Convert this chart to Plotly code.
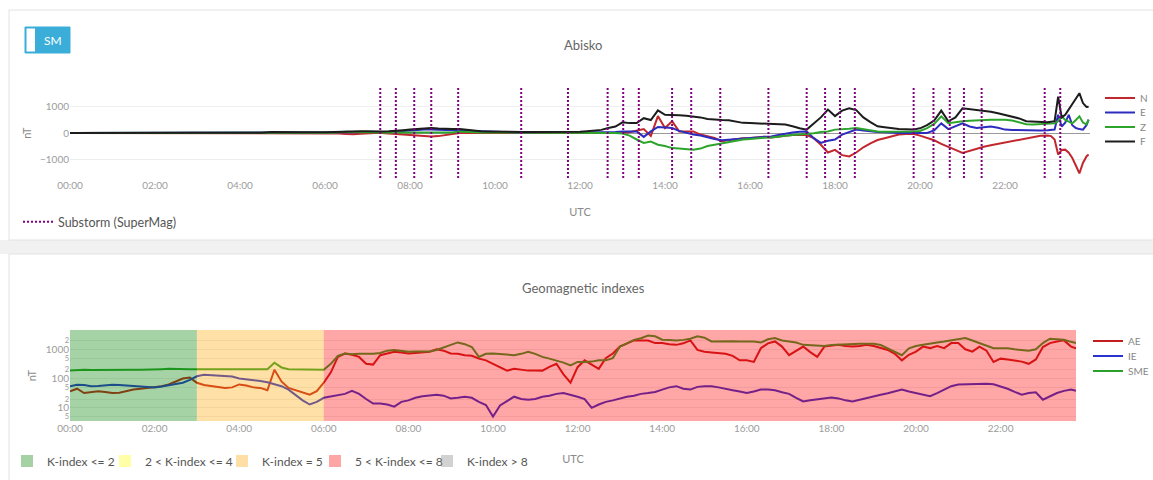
import pandas as pd
import plotly.graph_objects as go

DAY = "2015-03-17"
W, H = 1153, 480
FONT = "Lato, 'Open Sans', sans-serif"

# ---------------- Abisko magnetometer (nT) ----------------
QUIET_TIMES = ["00:00", "00:30", "01:00", "01:30", "02:00", "02:30", "03:00",
               "03:30", "04:00", "04:30", "04:45", "05:00", "05:30"]
TEN_MIN_TIMES = [f"{h:02d}:{m:02d}" for h in range(6, 23) for m in range(0, 60, 10)]
FIVE_MIN_TIMES = [f"23:{m:02d}" for m in range(0, 60, 5)]
TIME_TOP = QUIET_TIMES + TEN_MIN_TIMES + FIVE_MIN_TIMES + ["23:58"]

N_VALUES = (
    [0, -2, -3, -2, -3, -2, -3, -2, -3, -3, -5, -5, -5]
    + [-5, -10, -20, -40, -50, -30]
    + [-10, 0, 0, -20, -50, -60]
    + [-90, -100, -120, -130, -120, -80]
    + [-20, 0, 0, 0, 0, 0]
    + [0, 0, 0, 0, 0, 0]
    + [0, 0, 0, 0, 0, 0]
    + [0, 0, 0, 0, 0, 0]
    + [0, 30, 80, 150, -110, 650]
    + [190, 450, 60, 60, 60, -60]
    + [-130, -190, -320, -280, -240, -200]
    + [-190, -160, -140, -170, -150, -110]
    + [-80, -70, -80, -200, -450, -750]
    + [-650, -850, -900, -750, -550, -400]
    + [-270, -200, -130, -60, -40, -30]
    + [-100, -180, -280, -420, -520, -650]
    + [-770, -680, -600, -530, -470, -420]
    + [-380, -330, -260, -200, -160, -110]
    + [-100, -120, -250, -830, -650, -640, -760, -960, -1250, -1550, -1150, -900]
    + [-830]
)
E_VALUES = (
    [0, 2, 3, 2, 3, 2, 3, 2, 3, 5, 8, 8, 5]
    + [0, 10, 20, 20, 30, 40]
    + [40, 30, 20, 40, 60, 80]
    + [90, 110, 130, 130, 120, 100]
    + [90, 80, 70, 60, 60, 50]
    + [40, 30, 20, 20, 20, 20]
    + [20, 20, 20, 20, 20, 20]
    + [20, 20, 20, 20, 20, 40]
    + [60, 60, 60, -150, 60, 230]
    + [220, 190, 80, 0, -60, -100]
    + [-170, -230, -280, -260, -240, -230]
    + [-200, -170, -150, -130, -80, -20]
    + [20, 50, 60, -200, -380, -300]
    + [-250, -60, 50, 130, 100, 60]
    + [40, 30, 10, 0, 0, 0]
    + [0, 0, 100, 370, 150, 250]
    + [370, 250, 190, 220, 250, 200]
    + [130, 120, 110, 100, 100, 100]
    + [110, 120, 130, 700, 250, 400, 700, 300, 190, 150, 130, 300]
    + [510]
)
Z_VALUES = (
    [0, 1, 2, 1, 2, 1, 2, 1, 2, 2, 3, 3, 3]
    + [0, 10, 30, 50, 40, 30]
    + [20, 20, 20, 20, 20, 20]
    + [20, 20, 20, 20, 20, 20]
    + [20, 60, 40, 30, 20, 20]
    + [20, 15, 15, 15, 15, 15]
    + [15, 15, 15, 15, 15, 15]
    + [10, 10, 10, 10, 5, 0]
    + [-20, -100, -250, -380, -330, -450]
    + [-500, -580, -600, -620, -640, -600]
    + [-500, -450, -400, -330, -290, -250]
    + [-230, -200, -180, -170, -150, -110]
    + [-80, -60, -50, -10, 40, 60]
    + [130, 140, 160, 190, 150, 100]
    + [60, 50, 50, 60, 60, 60]
    + [80, 190, 350, 640, 380, 420]
    + [450, 470, 490, 500, 510, 510]
    + [510, 480, 420, 340, 330, 350]
    + [370, 370, 370, 450, 640, 500, 420, 370, 500, 640, 400, 330]
    + [510]
)
F_VALUES = (
    [0, 5, 5, 5, 5, 5, 5, 5, 5, 10, 40, 30, 30]
    + [30, 40, 60, 70, 60, 70]
    + [70, 60, 60, 70, 80, 110]
    + [130, 150, 170, 190, 170, 150]
    + [150, 150, 120, 90, 70, 60]
    + [50, 40, 40, 35, 35, 35]
    + [35, 35, 40, 40, 40, 45]
    + [50, 70, 90, 120, 190, 250]
    + [410, 380, 380, 570, 500, 870]
    + [700, 700, 680, 660, 640, 600]
    + [540, 510, 500, 490, 450, 390]
    + [380, 370, 365, 370, 350, 330]
    + [260, 180, 130, 370, 600, 900]
    + [650, 860, 950, 880, 600, 420]
    + [260, 220, 180, 150, 140, 130]
    + [180, 300, 480, 860, 450, 600]
    + [950, 920, 880, 860, 820, 760]
    + [700, 640, 560, 450, 430, 415]
    + [410, 430, 450, 1400, 600, 700, 900, 1140, 1300, 1530, 1150, 1000]
    + [1010]
)

SUBSTORM_TIMES = ["07:18", "07:40", "08:06", "08:30", "09:08", "10:37", "11:43",
                  "12:39", "13:01", "13:23", "14:10", "14:37", "15:18", "16:26",
                  "17:20", "17:46", "18:07", "18:28", "19:51", "20:19", "20:42",
                  "21:02", "21:27", "22:56", "23:18"]
TOP_Y_RANGE = [-1730, 1730]
TICK_TIMES = ["00:00", "02:00", "04:00", "06:00", "08:00", "10:00",
              "12:00", "14:00", "16:00", "18:00", "20:00", "22:00"]

# ---------------- Geomagnetic indexes (nT) ----------------
TIME_BOTTOM = [f"{h:02d}:{m:02d}" for h in range(24) for m in range(0, 60, 10)][:-1] + ["23:47"]

AE_VALUES = (
    [37, 45, 32, 35, 37, 35] + [32, 33, 38, 42, 45, 48] + [50, 55, 63, 82, 100, 108]
    + [72, 60, 55, 50, 48, 50] + [63, 58, 50, 48, 40, 200] + [80, 48, 40, 32, 28, 37]
    + [72, 163, 550, 720, 650, 550] + [320, 300, 630, 720, 830, 780]
    + [720, 750, 800, 830, 1000, 900] + [720, 700, 630, 600, 480, 420]
    + [320, 250, 187, 215, 200, 187] + [190, 187, 250, 320, 140, 73]
    + [245, 420, 300, 215, 500, 720] + [1240, 1600, 2020, 2020, 2000, 1630]
    + [1630, 1500, 1420, 1600, 2020, 950] + [830, 780, 720, 700, 600, 420]
    + [420, 370, 1085, 1600, 1860, 1240] + [630, 900, 1240, 800, 550, 1240]
    + [1300, 1420, 1300, 1240, 1300, 1420] + [1300, 1100, 950, 700, 420, 650]
    + [830, 1240, 1100, 1300, 1100, 1630] + [1630, 1000, 830, 1240, 900, 370]
    + [480, 450, 420, 380, 320, 450] + [1200, 1630, 1860, 2020, 1240]
    + [1085]
)
IE_VALUES = (
    [55, 62, 60, 55, 56, 58] + [62, 60, 58, 55, 52, 50] + [50, 54, 60, 65, 72, 90]
    + [120, 135, 132, 128, 125, 118] + [100, 95, 90, 82, 75, 65] + [55, 42, 28, 18, 13, 16]
    + [22, 24, 26, 30, 38, 30] + [20, 14, 14, 13, 11, 16]
    + [18, 22, 25, 27, 28, 26] + [21, 22, 24, 22, 16, 12.5]
    + [5, 12, 16.5, 24, 20, 19] + [20, 24, 26, 30, 32, 28]
    + [24, 20, 10, 13, 16, 18] + [21, 24, 26, 30, 32, 35]
    + [42, 50, 55, 45, 42, 52] + [55, 55, 50, 46, 40, 36]
    + [32, 36, 42, 42, 40, 34] + [30, 22, 16.5, 18, 19.6, 21]
    + [22.7, 21, 18, 16.5, 19, 22] + [24, 28, 31.5, 36, 42, 36]
    + [31.5, 28, 25, 32, 42, 55] + [63, 64, 65, 66, 66, 64]
    + [55, 45, 35, 28, 32, 34] + [19, 25, 32, 38, 42]
    + [38]
)
SME_VALUES = (
    [190, 200, 200, 198, 200, 200] + [200, 198, 200, 200, 200, 200] + [205, 210, 215, 210, 210, 210]
    + [210, 210, 210, 210, 210, 210] + [210, 210, 210, 205, 210, 350] + [240, 210, 210, 205, 205, 200]
    + [200, 320, 600, 720, 680, 700] + [680, 700, 750, 900, 950, 880]
    + [830, 840, 830, 850, 950, 1150] + [1400, 1720, 1500, 1200, 550, 700]
    + [720, 680, 650, 630, 700, 830] + [700, 550, 480, 420, 350, 280]
    + [370, 370, 380, 420, 420, 500] + [1240, 1600, 2100, 2400, 2950, 2800]
    + [2130, 2100, 2020, 2100, 2300, 2800] + [2500, 1860, 1900, 1950, 1900, 1860]
    + [1860, 1850, 1700, 2200, 2440, 2000] + [1860, 1700, 1420, 1400, 1310, 1310]
    + [1400, 1450, 1500, 1540, 1540, 1540] + [1540, 1400, 1085, 800, 630, 1085]
    + [1300, 1420, 1600, 1720, 1850, 2020] + [2200, 2440, 2000, 1630, 1400, 1085]
    + [1085, 1085, 1000, 950, 900, 1000] + [1630, 2300, 2200, 2130, 1800]
    + [1630]
)

KP_SLOT_STARTS = ["00:00", "03:00", "06:00", "09:00", "12:00", "15:00", "18:00", "21:00"]
KP_VALUES = [2, 5, 7, 7, 7, 7, 7, 7]
K_CLASSES = [
    ("K-index <= 2", -1, 2, "rgb(0,128,0)"),
    ("2 < K-index <= 4", 2, 4, "rgb(255,255,0)"),
    ("K-index = 5", 4, 5, "rgb(255,165,0)"),
    ("5 < K-index <= 8", 5, 8, "rgb(255,0,0)"),
    ("K-index > 8", 8, 99, "rgb(128,128,128)"),
]

for arr in (N_VALUES, E_VALUES, Z_VALUES, F_VALUES):
    assert len(arr) == len(TIME_TOP), (len(arr), len(TIME_TOP))
for arr in (AE_VALUES, IE_VALUES, SME_VALUES):
    assert len(arr) == len(TIME_BOTTOM), (len(arr), len(TIME_BOTTOM))


def ts(t):
    return pd.Timestamp(f"{DAY} {t}")


def px(x):
    return x / W


def py(y):
    return 1 - y / H


def k_class(k):
    for idx, (_, lo, hi, _) in enumerate(K_CLASSES):
        if lo < k <= hi:
            return idx
    return None


top_x = [ts(t) for t in TIME_TOP]
bot_x = [ts(t) for t in TIME_BOTTOM]
tick_x = [ts(t) for t in TICK_TIMES]
day_start = ts("00:00")
day_end = ts("23:59:59")

fig = go.Figure()

TOP_SERIES = [("N", N_VALUES, "#c0282d", "legend"),
              ("E", E_VALUES, "#2c2cbf", "legend2"),
              ("Z", Z_VALUES, "#2ca52c", "legend3"),
              ("F", F_VALUES, "#1c1c1c", "legend4")]
for name, vals, color, leg in TOP_SERIES:
    fig.add_trace(go.Scatter(x=top_x, y=vals, mode="lines", name=name,
                             line=dict(color=color, width=2),
                             xaxis="x", yaxis="y", legend=leg))

sx, sy = [], []
for t in SUBSTORM_TIMES:
    sx += [ts(t), ts(t), None]
    sy += [TOP_Y_RANGE[0], TOP_Y_RANGE[1], None]
fig.add_trace(go.Scatter(x=sx, y=sy, mode="lines", name="Substorm (SuperMag)",
                         line=dict(color="#800080", width=2, dash="2px,2px"),
                         xaxis="x", yaxis="y", legend="legend5"))

BOT_SERIES = [("AE", AE_VALUES, "#c31e1e", "legend6"),
              ("IE", IE_VALUES, "#2a32d2", "legend7"),
              ("SME", SME_VALUES, "#2ca02c", "legend8")]
for name, vals, color, leg in BOT_SERIES:
    fig.add_trace(go.Scatter(x=bot_x, y=vals, mode="lines", name=name,
                             line=dict(color=color, width=2),
                             xaxis="x2", yaxis="y2", legend=leg))

# group consecutive 3-hour slots of the same K class into one band (no seams)
slot_ms = 3 * 3600 * 1000
runs = []  # (class index, start slot, number of slots)
for i, k in enumerate(KP_VALUES):
    c = k_class(k)
    if runs and runs[-1][0] == c:
        runs[-1][2] += 1
    else:
        runs.append([c, i, 1])

for ci, (label, lo, hi, color) in enumerate(K_CLASSES):
    mine = [r for r in runs if r[0] == ci]
    xs = [ts(KP_SLOT_STARTS[r[1]]) for r in mine]
    widths = [r[2] * slot_ms for r in mine]
    fig.add_trace(go.Bar(x=xs if xs else [None], y=[1] * len(xs) if xs else [None],
                         base=0, width=widths if widths else slot_ms, offset=0,
                         marker=dict(color=color, line=dict(width=0)),
                         opacity=0.35, name=label,
                         xaxis="x2", yaxis="y3", legend=f"legend{9 + ci}"))

tickfont = dict(family=FONT, size=10, color="#9c9c9c")
titlefont = dict(family=FONT, size=11, color="#8a8a8a")

layout = dict(
    width=W, height=H,
    margin=dict(l=0, r=0, t=0, b=0, autoexpand=False),
    paper_bgcolor="white", plot_bgcolor="white",
    font=dict(family=FONT, color="#666"),
    showlegend=True,
    barmode="overlay",
    xaxis=dict(domain=[px(70), px(1090)], anchor="y", type="date",
               range=[day_start, day_end], tickformat="%H:%M",
               tickmode="array", tickvals=tick_x,
               showgrid=False, zeroline=False,
               showline=False, ticks="", tickfont=tickfont, automargin=False,
               title=dict(text="UTC", font=titlefont, standoff=18)),
    yaxis=dict(domain=[py(178), py(88)], anchor="x", range=TOP_Y_RANGE,
               tickvals=[-1000, 0, 1000], showgrid=True, gridcolor="#eeeeee",
               zeroline=True, zerolinecolor="#9a9a9a", zerolinewidth=1,
               tickfont=tickfont, ticks="", automargin=False,
               title=dict(text="nT", font=titlefont, standoff=6)),
    xaxis2=dict(domain=[px(70), px(1076)], anchor="y2", type="date",
                range=[day_start, ts("23:47")], tickformat="%H:%M",
                tickmode="array", tickvals=tick_x,
                showgrid=False, zeroline=False,
                showline=False, ticks="", tickfont=tickfont, automargin=False,
                title=dict(text="UTC", font=titlefont, standoff=22)),
    yaxis2=dict(domain=[py(421), py(330)], anchor="x2", type="log",
                range=[0.55, 3.66], dtick="D2", showgrid=True, gridcolor="#eeeeee",
                zeroline=False, tickfont=tickfont, ticks="", automargin=False,
                title=dict(text="nT", font=titlefont, standoff=6)),
    yaxis3=dict(overlaying="y2", anchor="x2", range=[0, 1], visible=False,
                fixedrange=True),
)


def leg(x, y, size=10, color="#888"):
    return dict(x=px(x), y=py(y), xanchor="left", yanchor="middle",
                bgcolor="rgba(0,0,0,0)", borderwidth=0, orientation="v",
                font=dict(family=FONT, size=size, color=color))


layout["legend"] = leg(1100, 98)
layout["legend2"] = leg(1100, 112.5)
layout["legend3"] = leg(1100, 127)
layout["legend4"] = leg(1100, 141.5)
layout["legend5"] = leg(18, 222, 12.5, "#555")
layout["legend6"] = leg(1088, 341)
layout["legend7"] = leg(1088, 356)
layout["legend8"] = leg(1088, 371)
for i, x in enumerate([7, 105, 222, 315, 427]):
    layout[f"legend{9 + i}"] = leg(x, 461, 12, "#555")

layout["shapes"] = [
    dict(type="rect", xref="paper", yref="paper", x0=0, x1=1, y0=py(254), y1=py(240),
         fillcolor="#f1f1f1", line=dict(width=0), layer="below"),
    dict(type="rect", xref="paper", yref="paper", x0=px(9), x1=1.01, y0=py(240), y1=py(10),
         fillcolor="rgba(0,0,0,0)", line=dict(color="#e2e2e2", width=1), layer="below"),
    dict(type="rect", xref="paper", yref="paper", x0=px(9), x1=1.01, y0=-0.01, y1=py(254),
         fillcolor="rgba(0,0,0,0)", line=dict(color="#e2e2e2", width=1), layer="below"),
    dict(type="rect", xref="paper", yref="paper", x0=px(25), x1=px(70), y0=py(53), y1=py(27),
         fillcolor="#3aaed8", line=dict(color="#3aaed8", width=1)),
    dict(type="rect", xref="paper", yref="paper", x0=px(26.5), x1=px(35), y0=py(51.5), y1=py(28.5),
         fillcolor="white", line=dict(width=0)),
]
layout["annotations"] = [
    dict(text="Abisko", x=px(583), y=py(45), xref="paper", yref="paper",
         xanchor="center", yanchor="middle",
         showarrow=False, font=dict(family=FONT, size=13, color="#666")),
    dict(text="Geomagnetic indexes", x=px(583), y=py(288), xref="paper", yref="paper",
         xanchor="center", yanchor="middle",
         showarrow=False, font=dict(family=FONT, size=13, color="#666")),
    dict(text="SM", x=px(53), y=py(40), xref="paper", yref="paper",
         xanchor="center", yanchor="middle",
         showarrow=False, font=dict(family=FONT, size=12, color="white")),
]

fig.update_layout(**layout)
fig.write_html(
    "out.html",
    config={"displayModeBar": False},
    post_script="document.body.style.margin='0px';document.body.style.overflow='hidden';",
)
